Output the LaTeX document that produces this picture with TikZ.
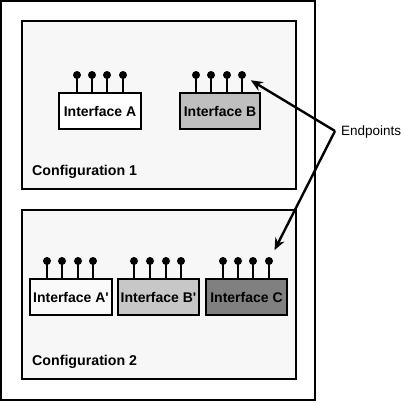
\documentclass[tikz,border=0pt]{standalone}
\usepackage{fontspec}
\setmainfont{Liberation Sans}
\usetikzlibrary{arrows.meta}
\begin{document}
\begin{tikzpicture}[x=1pt,y=-1pt,
  frame/.style={draw=black,line width=2pt},
  cfg/.style={draw=black,line width=2.2pt,fill=black!3},
  iface/.style={draw=black,line width=1.8pt,minimum width=#1,minimum height=36pt,inner sep=0pt,font=\fontsize{14}{16}\selectfont\bfseries},
  pindot/.style={circle,fill=black,inner sep=0pt,minimum size=8pt},
  stem/.style={line width=2.8pt},
  cfglabel/.style={anchor=west,font=\fontsize{14.2}{16}\selectfont\bfseries,inner sep=0pt},
  arr/.style={line width=2.4pt,-{Stealth[length=12pt,width=10pt]}}]
\useasboundingbox (0,0) rectangle (404,402);
\fill[white] (0,0) rectangle (404,402);
\draw[frame] (1,1) rectangle (315,400);
% configuration boxes
\node[cfg,minimum width=274pt,minimum height=168pt,inner sep=0pt] (cfg1) at (159,105) {};
\node[cfg,minimum width=274pt,minimum height=169pt,inner sep=0pt] (cfg2) at (159,294.5) {};
\node[cfglabel] (l1) at (32,172) {Configuration 1};
\node[cfglabel] (l2) at (32,362) {Configuration 2};
% interfaces config 1
\node[iface=82pt,fill=white] (A) at (100,111) {Interface A};
\node[iface=80pt,fill=black!25] (B) at (220,111) {Interface B};
% interfaces config 2
\node[iface=82pt,fill=black!2] (A2) at (71,297) {Interface A\textquotesingle};
\node[iface=81pt,fill=black!22] (B2) at (158.5,297) {Interface B\textquotesingle};
\node[iface=81pt,fill=black!50] (C) at (246.5,297) {Interface C};
% pins
\foreach \n/\x/\y/\bx in {a1/77/75/A,a2/92/75/A,a3/107/75/A,a4/123/75/A,
  b1/196/75/B,b2/211/75/B,b3/227/75/B,b4/242/75/B,
  p1/47/261/A2,p2/62/261/A2,p3/78/261/A2,p4/93/261/A2,
  q1/134/261/B2,q2/150/261/B2,q3/166/261/B2,q4/181/261/B2,
  c1/223/261/C,c2/238/261/C,c3/253/261/C,c4/269/261/C}{
  \node[pindot] (\n) at (\x,\y) {};
  \draw[stem] (\n.center) -- (\n.center |- \bx.north);
}
% endpoints label and arrows
\node[anchor=west,font=\fontsize{13.5}{15}\selectfont,inner sep=0pt] (ep) at (341,132) {Endpoints};
\coordinate (epj) at (335,131);
\draw[arr,shorten >=6pt] (epj) -- (b4);
\draw[arr,shorten >=8pt] (epj) -- (c4);
\end{tikzpicture}
\end{document}
